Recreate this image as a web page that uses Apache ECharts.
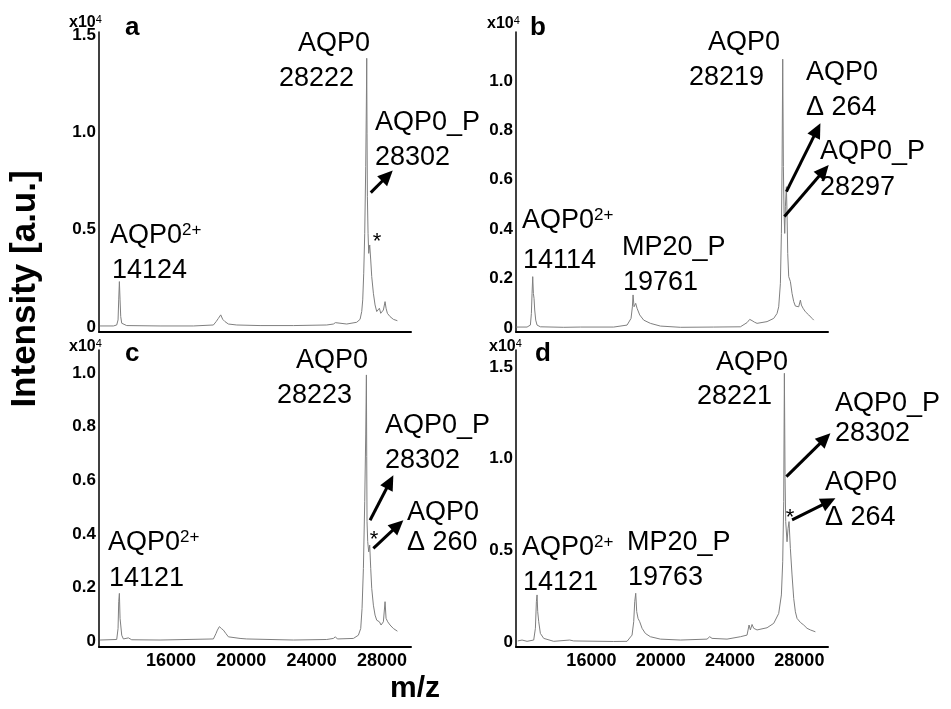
<!DOCTYPE html>
<html><head><meta charset="utf-8">
<script src="https://cdn.jsdelivr.net/npm/echarts@6/dist/echarts.min.js"></script>
<style>html,body{margin:0;padding:0;background:#fff}#c{width:951px;height:709px}</style>
</head><body><div id="c"></div>
<script>
// ---- data (m/z as read on the drawn axis, intensity in x10^4 a.u.) ----
const mzTicks = [16000, 20000, 24000, 28000];
const yTicksA = [0, 0.5, 1.0, 1.5];
const yTicksB = [0, 0.2, 0.4, 0.6, 0.8, 1.0];
const yTicksC = [0, 0.2, 0.4, 0.6, 0.8, 1.0];
const yTicksD = [0, 0.5, 1.0, 1.5];

const specA = [[11960,0.005],[12719,0.005],[12908,0.010],[12984,0.036],[13022,0.139],[13060,0.233],[13098,0.139],[13136,0.053],[13193,0.019],[13288,0.010],[13477,0.007],[15374,0.005],[17271,0.005],[18409,0.010],[18561,0.027],[18693,0.044],[18826,0.062],[18940,0.039],[19073,0.027],[19262,0.015],[19736,0.010],[21064,0.007],[22961,0.007],[24858,0.010],[25237,0.015],[25351,0.022],[25464,0.014],[25996,0.015],[26565,0.024],[26754,0.039],[26849,0.079],[26906,0.139],[26963,0.276],[27020,0.481],[27077,0.823],[27115,1.166],[27134,1.380],[27152,0.995],[27171,0.669],[27209,0.481],[27247,0.378],[27304,0.421],[27361,0.344],[27418,0.259],[27513,0.173],[27608,0.113],[27703,0.079],[27798,0.087],[27855,0.096],[27930,0.070],[28006,0.079],[28082,0.087],[28177,0.130],[28234,0.096],[28309,0.070],[28461,0.053],[28651,0.039],[28878,0.032]];

const specB = [[11672,0.004],[12288,0.004],[12480,0.012],[12538,0.059],[12576,0.140],[12615,0.208],[12653,0.140],[12691,0.120],[12730,0.073],[12788,0.032],[12865,0.012],[13057,0.005],[14403,0.003],[15365,0.004],[17288,0.004],[18058,0.012],[18288,0.039],[18365,0.086],[18404,0.134],[18461,0.086],[18557,0.100],[18635,0.080],[18788,0.053],[19019,0.032],[19404,0.019],[19981,0.008],[21135,0.003],[23058,0.004],[24597,0.005],[24981,0.022],[25135,0.035],[25270,0.030],[25405,0.024],[25558,0.019],[26135,0.026],[26520,0.039],[26712,0.059],[26808,0.086],[26905,0.181],[26962,0.383],[27001,0.653],[27040,1.088],[27078,0.653],[27116,0.464],[27155,0.383],[27193,0.491],[27251,0.572],[27289,0.464],[27328,0.302],[27385,0.208],[27482,0.188],[27578,0.140],[27674,0.107],[27770,0.089],[27866,0.097],[27962,0.086],[28059,0.113],[28116,0.093],[28213,0.080],[28347,0.066],[28540,0.053],[28732,0.039],[28828,0.032]];

const specC = [[11960,0.004],[12908,0.006],[12984,0.047],[13022,0.147],[13060,0.178],[13098,0.085],[13136,0.060],[13193,0.022],[13288,0.008],[13572,0.012],[13762,0.005],[15374,0.004],[18409,0.008],[18561,0.029],[18636,0.041],[18750,0.054],[18864,0.047],[18978,0.041],[19111,0.029],[19262,0.016],[19926,0.010],[20306,0.008],[22961,0.004],[24858,0.006],[25237,0.010],[25351,0.016],[25464,0.008],[26375,0.010],[26659,0.022],[26792,0.047],[26868,0.122],[26944,0.271],[27020,0.520],[27077,0.769],[27115,0.993],[27134,0.688],[27152,0.445],[27190,0.371],[27247,0.333],[27304,0.358],[27361,0.271],[27418,0.197],[27513,0.134],[27608,0.097],[27703,0.078],[27855,0.072],[27949,0.060],[28082,0.072],[28177,0.147],[28234,0.085],[28329,0.072],[28461,0.060],[28651,0.047],[28878,0.037]];

const specD = [[11749,0.006],[11999,0.011],[12288,0.004],[12672,0.011],[12769,0.075],[12826,0.220],[12865,0.257],[12903,0.166],[12961,0.111],[13057,0.047],[13249,0.020],[13826,0.004],[14749,0.011],[14826,0.020],[14980,0.006],[17288,0.003],[18058,0.004],[18346,0.038],[18442,0.111],[18500,0.220],[18558,0.266],[18615,0.166],[18692,0.129],[18788,0.111],[18923,0.075],[19115,0.047],[19404,0.029],[19981,0.016],[21135,0.011],[22673,0.016],[22827,0.029],[22962,0.020],[23827,0.016],[24597,0.029],[24981,0.038],[25097,0.093],[25174,0.066],[25270,0.096],[25366,0.075],[25558,0.066],[26135,0.078],[26520,0.102],[26808,0.156],[26962,0.257],[27039,0.438],[27097,0.766],[27135,1.466],[27174,0.893],[27212,0.657],[27289,0.547],[27347,0.620],[27404,0.657],[27481,0.511],[27577,0.366],[27674,0.238],[27770,0.165],[27866,0.129],[28059,0.107],[28251,0.093],[28443,0.075],[28636,0.066],[28924,0.056]];

const arrowsA = [[[27363,0.690],[28615,0.803]]];
const arrowsB = [[[27252,0.552],[29213,0.829]],[[27136,0.451],[29692,0.660]]];
const arrowsC = [[[27323,0.451],[28649,0.619]],[[27511,0.346],[29218,0.451]]];
const arrowsD = [[[27252,0.902],[29790,1.139]],[[27580,0.666],[30079,0.784]]];

// ---- layout ----
const FF = 'Liberation Sans, Arial, sans-serif';
const panels = [
  {grid:{left:99, top:32, width:312, height:300}, x:[11900,29653], y:[-0.026,1.515], yt:yTicksA, showX:false, data:specA, arrows:arrowsA},
  {grid:{left:516, top:32, width:312, height:300}, x:[11650,29652], y:[-0.016,1.198], yt:yTicksB, showX:false, data:specB, arrows:arrowsB},
  {grid:{left:99, top:350, width:312, height:297}, x:[11900,29653], y:[-0.022,1.086], yt:yTicksC, showX:true, data:specC, arrows:arrowsC},
  {grid:{left:516, top:350, width:312, height:297}, x:[11650,29652], y:[-0.027,1.593], yt:yTicksD, showX:true, data:specD, arrows:arrowsD}
];

const grids = panels.map(p => p.grid);
const xAxes = panels.map((p,i) => ({
  type:'value', gridIndex:i, min:p.x[0], max:p.x[1],
  axisLine:{show:true, onZero:false, lineStyle:{color:'#000', width:2}},
  axisTick:{show:false}, splitLine:{show:false},
  axisLabel:{show:p.showX, customValues:mzTicks, color:'#000', fontSize:18, fontWeight:'bold', fontFamily:FF, margin:5,
    formatter: v => String(Math.round(v))}
}));
const yAxes = panels.map((p,i) => ({
  type:'value', gridIndex:i, min:p.y[0], max:p.y[1],
  axisLine:{show:true, onZero:false, lineStyle:{color:'#000', width:1.5}},
  axisTick:{show:false}, splitLine:{show:false},
  axisLabel:{show:true, customValues:p.yt, color:'#000', fontSize:17, fontWeight:'bold', fontFamily:FF, margin:3,
    formatter: v => (Math.abs(v) < 1e-9 ? '0' : v.toFixed(1))}
}));
const series = panels.map((p,i) => ({
  type:'line', xAxisIndex:i, yAxisIndex:i, data:p.data, showSymbol:false, symbol:'none',
  lineStyle:{color:'#7f7f7f', width:1}, animation:false, clip:false, silent:true
}));

function T(text, x, base, size, weight) {
  size = size || 27;
  return {type:'text', x:x, y:base - 0.35*size, silent:true, z:100,
    style:{text:text, fontSize:size, fontWeight:weight || 'normal', fontFamily:FF, fill:'#000',
      align:'left', verticalAlign:'middle', textAlign:'left', textVerticalAlign:'middle'}};
}
function SUP(x, base) {
  return {type:'text', x:x, y:base - 0.35*27, silent:true, z:100,
    style:{text:'{n|AQP0}{s|2+}', fill:'#000', align:'left', verticalAlign:'middle', textAlign:'left', textVerticalAlign:'middle',
      rich:{n:{fontSize:27, fontFamily:FF, fill:'#000'}, s:{fontSize:17, fontFamily:FF, fill:'#000', verticalAlign:'top'}}}};
}
function X104(x, base) {
  return {type:'text', x:x, y:base - 0.35*16, silent:true, z:100,
    style:{text:'{n|x10}{s|4}', fill:'#000', align:'left', verticalAlign:'middle', textAlign:'left', textVerticalAlign:'middle',
      rich:{n:{fontSize:16, fontWeight:'bold', fontFamily:FF, fill:'#000'}, s:{fontSize:11, fontFamily:FF, fill:'#000', verticalAlign:'top'}}}};
}
function STAR(x, y) {
  return {type:'text', x:x, y:y, silent:true, z:100,
    style:{text:'*', fontSize:22, fontFamily:FF, fill:'#000', align:'center', verticalAlign:'middle', textAlign:'center', textVerticalAlign:'middle'}};
}

const graphics = [
  // panel a
  X104(69, 28), T('a', 125, 37, 26, 'bold'),
  T('AQP0', 298, 53), T('28222', 279, 88), T('AQP0_P', 375, 132), T('28302', 375, 167),
  SUP(110, 245), T('14124', 112, 280), STAR(377, 242),
  // panel b
  X104(487, 29), T('b', 530, 37, 26, 'bold'),
  T('AQP0', 708, 52), T('28219', 689, 87), T('AQP0', 806, 82), T('\u0394 264', 806, 117),
  T('AQP0_P', 820, 161), T('28297', 820, 197),
  SUP(522, 230), T('14114', 523, 270), T('MP20_P', 622, 257), T('19761', 623, 292),
  // panel c
  X104(69, 352), T('c', 125, 363, 26, 'bold'),
  T('AQP0', 296, 370), T('28223', 277, 405), T('AQP0_P', 385, 435), T('28302', 385, 470),
  T('AQP0', 407, 522), T('\u0394 260', 407, 552),
  SUP(108, 552), T('14121', 109, 588), STAR(374, 540),
  // panel d
  X104(489, 352), T('d', 535, 363, 26, 'bold'),
  T('AQP0', 716, 372), T('28221', 697, 406), T('AQP0_P', 835, 413), T('28302', 835, 443),
  T('AQP0', 825, 492), T('\u0394 264', 825, 527),
  SUP(522, 557), T('14121', 523, 592), T('MP20_P', 627, 552), T('19763', 628, 587), STAR(790, 518),
  // axis titles
  {type:'text', x:25, y:289, rotation:Math.PI/2, silent:true, z:100,
    style:{text:'Intensity [a.u.]', fontSize:35, fontWeight:'bold', fontFamily:FF, fill:'#000',
      align:'center', verticalAlign:'middle', textAlign:'center', textVerticalAlign:'middle'}},
  {type:'text', x:415, y:689, silent:true, z:100,
    style:{text:'m/z', fontSize:30, fontWeight:'bold', fontFamily:FF, fill:'#000',
      align:'center', verticalAlign:'middle', textAlign:'center', textVerticalAlign:'middle'}}
];

const chart = echarts.init(document.getElementById('c'), null, {renderer:'canvas'});
chart.setOption({
  animation:false, backgroundColor:'#fff',
  textStyle:{fontFamily:FF},
  grid:grids, xAxis:xAxes, yAxis:yAxes, series:series, graphic:graphics
});

// arrows: endpoints given in data units, converted through each panel's axes
const arrowEls = [];
panels.forEach((p, i) => {
  p.arrows.forEach(a => {
    const s = chart.convertToPixel({gridIndex:i}, a[0]);
    const e = chart.convertToPixel({gridIndex:i}, a[1]);
    const dx = e[0] - s[0], dy = e[1] - s[1];
    const L = Math.sqrt(dx*dx + dy*dy), ux = dx / L, uy = dy / L;
    const head = 15, half = 7;
    const bx = e[0] - ux*head, by = e[1] - uy*head;
    arrowEls.push({type:'line', silent:true, z:90,
      shape:{x1:s[0], y1:s[1], x2:bx + ux*2, y2:by + uy*2}, style:{stroke:'#000', lineWidth:3}});
    arrowEls.push({type:'polygon', silent:true, z:90,
      shape:{points:[[e[0], e[1]], [bx - uy*half, by + ux*half], [bx + uy*half, by - ux*half]]},
      style:{fill:'#000'}});
  });
});
chart.setOption({graphic: graphics.concat(arrowEls)});
</script></body></html>
